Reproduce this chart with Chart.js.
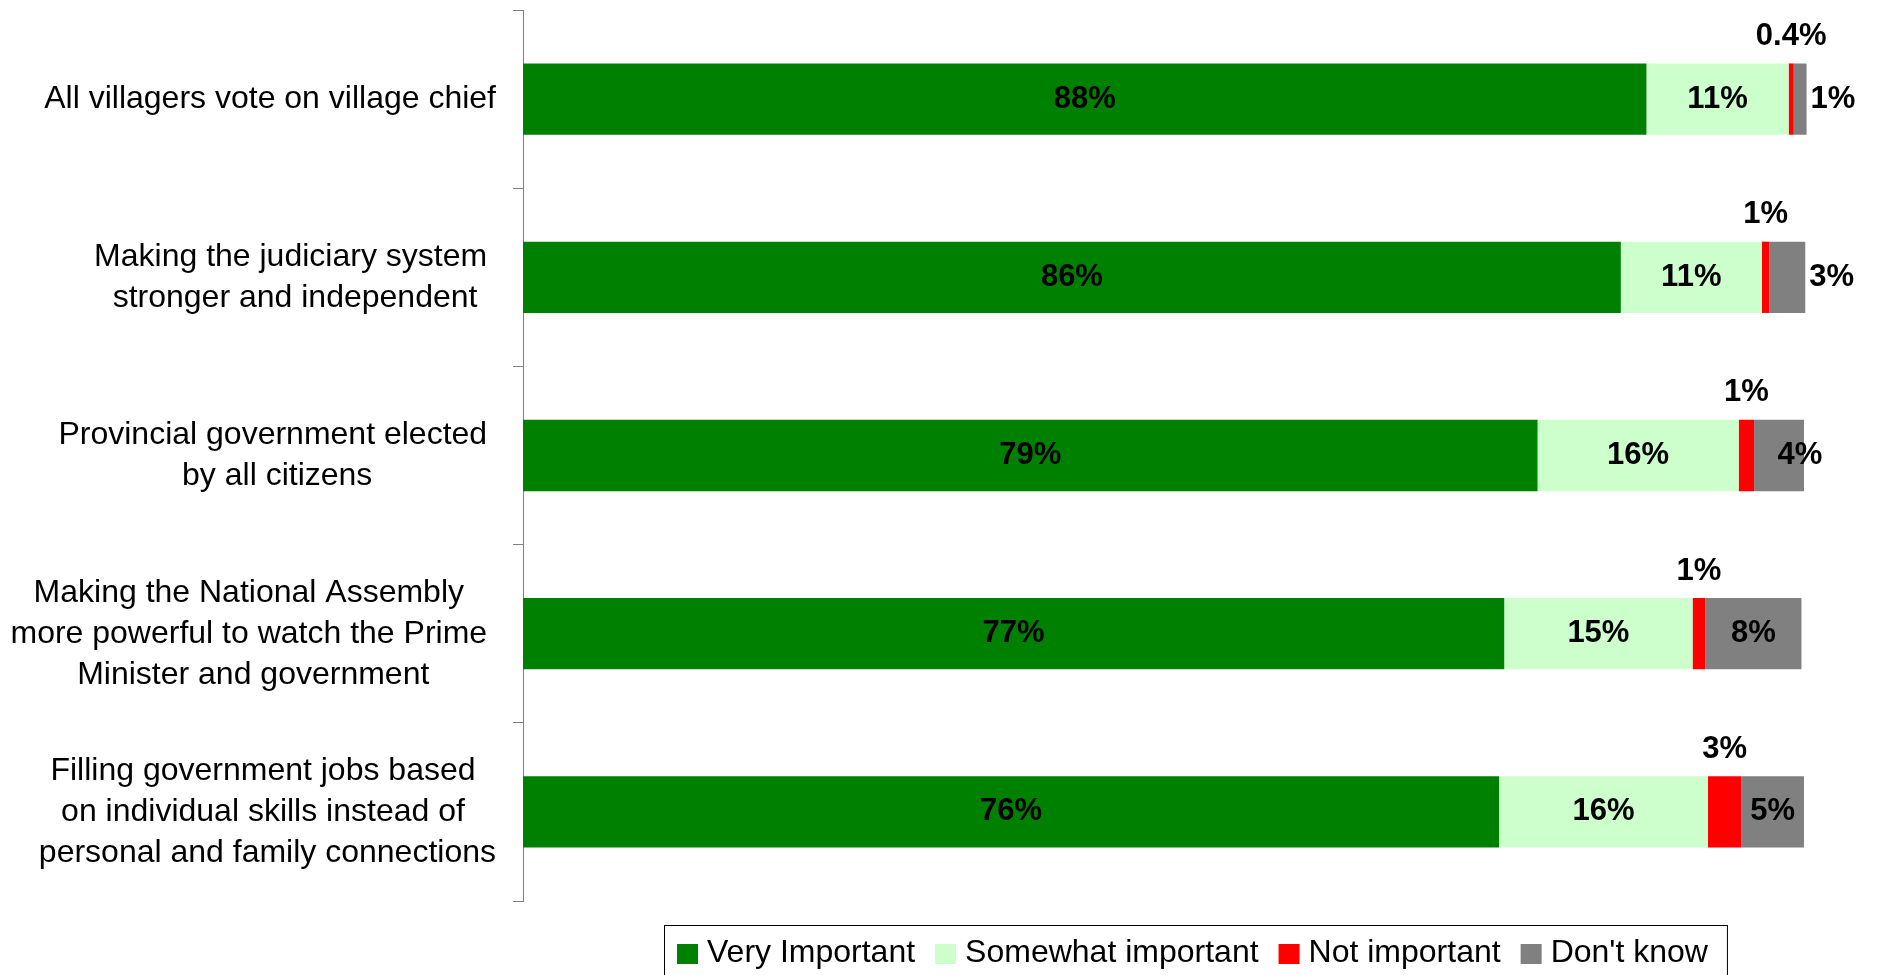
<!DOCTYPE html>
<html>
<head>
<meta charset="utf-8">
<script src="https://cdn.jsdelivr.net/npm/chart.js@4.4.1/dist/chart.umd.min.js"></script>
<style>
  html, body { margin: 0; padding: 0; background: #fff; }
  canvas { display: block; }
</style>
</head>
<body>
<canvas id="chart" width="1879" height="975"></canvas>
<script>
// category labels, wrapped the way the original wraps them (trailing spaces kept)
const categories = [
  ['All villagers vote on village chief'],
  ['Making the judiciary system ', 'stronger and independent'],
  ['Provincial government elected ', 'by all citizens'],
  ['Making the National Assembly ', 'more powerful to watch the Prime ', 'Minister and government'],
  ['Filling government jobs based ', 'on individual skills instead of ', 'personal and family connections']
];
const seriesNames = ['Very Important', 'Somewhat important', 'Not important', "Don't know"];
const veryImportant = [87.7, 85.7, 79.2, 76.6, 76.2];
const somewhatImportant = [11.1, 11.0, 15.7, 14.7, 16.3];
const notImportant = [0.4, 0.6, 1.2, 1.0, 2.6];
const dontKnow = [1.0, 2.8, 3.9, 7.5, 4.9];
const colors = ['#008000', '#CCFFCC', '#FF0000', '#808080'];

const FONT = "'Liberation Sans', Arial, Helvetica, sans-serif";

function fmt(v) {
  return v < 0.5 ? v.toFixed(1) + '%' : Math.round(v) + '%';
}

// y labels: each block right-aligned, lines centred inside the block
const categoryLabels = {
  id: 'categoryLabels',
  afterDraw(chart) {
    const ctx = chart.ctx;
    const y = chart.scales.y;
    const right = 496;
    const lineH = 41;
    ctx.save();
    ctx.font = '32px ' + FONT;
    ctx.fillStyle = '#000';
    ctx.textAlign = 'center';
    ctx.textBaseline = 'middle';
    categories.forEach((lines, i) => {
      const cy = y.getPixelForValue(i);
      const w = Math.max(...lines.map(l => ctx.measureText(l).width));
      const cx = right - w / 2;
      const top = cy - (lines.length - 1) * lineH / 2;
      lines.forEach((l, k) => ctx.fillText(l, cx, top + k * lineH));
    });
    ctx.restore();
  }
};

// value labels on the segments
const valueLabels = {
  id: 'valueLabels',
  afterDatasetsDraw(chart) {
    const ctx = chart.ctx;
    ctx.save();
    ctx.font = 'bold 31px ' + FONT;
    ctx.fillStyle = '#000';
    ctx.textBaseline = 'middle';
    ctx.textAlign = 'center';
    chart.data.datasets.forEach((ds, di) => {
      const meta = chart.getDatasetMeta(di);
      meta.data.forEach((bar, j) => {
        const text = fmt(ds.data[j]);
        const start = Math.min(bar.base, bar.x);
        const end = Math.max(bar.base, bar.x);
        const mid = (start + end) / 2;
        const tw = ctx.measureText(text).width;
        if (di === 2) {
          ctx.fillText(text, mid, bar.y - bar.height / 2 - 27);
        } else if (di === 3 && end - start < tw) {
          ctx.fillText(text, end + 4 + tw / 2, bar.y);
        } else if (di === 3 && end - start < tw + 12) {
          ctx.fillText(text, end - 4, bar.y);
        } else {
          ctx.fillText(text, mid, bar.y);
        }
      });
    });
    ctx.restore();
  }
};

// boxed legend under the plot
const boxLegend = {
  id: 'boxLegend',
  afterDraw(chart) {
    const ctx = chart.ctx;
    ctx.save();
    ctx.font = '32px ' + FONT;
    const box = 21, gapText = 9, gapItem = 20, pad = 13;
    const widths = seriesNames.map(n => ctx.measureText(n).width);
    let total = pad * 2 + 6;
    widths.forEach((w, i) => { total += box + gapText + w + (i < widths.length - 1 ? gapItem : 0); });
    const left = Math.round(1195.5 - total / 2);
    const top = 925;
    ctx.strokeStyle = '#000';
    ctx.lineWidth = 1;
    ctx.strokeRect(left + 0.5, top + 0.5, total, 80);
    let x = left + pad;
    const cy = 954;
    ctx.textBaseline = 'middle';
    ctx.textAlign = 'left';
    seriesNames.forEach((n, i) => {
      ctx.fillStyle = colors[i];
      ctx.fillRect(x, cy - 10, box, 20);
      x += box + gapText;
      ctx.fillStyle = '#000';
      ctx.fillText(n, x, cy - 1);
      x += widths[i] + gapItem;
    });
    ctx.restore();
  }
};

const seriesValues = [veryImportant, somewhatImportant, notImportant, dontKnow];

new Chart(document.getElementById('chart').getContext('2d'), {
  type: 'bar',
  data: {
    labels: categories.map(c => c.join(' ')),
    datasets: seriesNames.map((name, i) => ({
      label: name,
      data: seriesValues[i],
      backgroundColor: colors[i],
      borderWidth: 0,
      barPercentage: 0.4,
      categoryPercentage: 1.0,
      clip: false
    }))
  },
  options: {
    indexAxis: 'y',
    responsive: false,
    animation: false,
    layout: { padding: { left: 513, right: 75, top: 10, bottom: 74 } },
    scales: {
      x: { stacked: true, min: 0, max: 100, display: false },
      y: {
        stacked: true,
        ticks: { display: false },
        grid: { offset: true, drawOnChartArea: false, tickLength: 10, color: '#808080' },
        border: { display: true, color: '#808080' }
      }
    },
    plugins: {
      legend: { display: false },
      tooltip: { enabled: false }
    }
  },
  plugins: [valueLabels, categoryLabels, boxLegend]
});
</script>
</body>
</html>
